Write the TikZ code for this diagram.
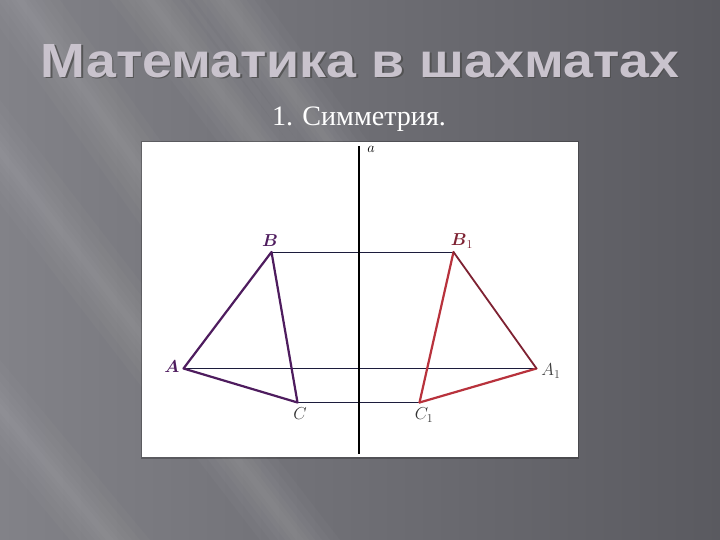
\documentclass[tikz,border=0pt]{standalone}
\usepackage{fontspec}
\setmainfont{Liberation Serif}
\newfontfamily\titlefont{Liberation Sans}
\usepackage{amsmath}
\definecolor{bgl}{HTML}{828288}
\definecolor{bgr}{HTML}{5A5A60}
\definecolor{titlec}{HTML}{C9C3CD}
\definecolor{purp}{HTML}{4E1C5E}
\definecolor{redc}{HTML}{B8323C}
\definecolor{redd}{HTML}{7E2232}
\definecolor{navy}{HTML}{1C1C3C}
\tikzset{
  purpline/.style={draw=purp, line width=2.2pt, line cap=round, line join=round},
  redline/.style={draw=redc, line width=2.2pt, line cap=round, line join=round},
  reddark/.style={draw=redd, line width=1.8pt, line cap=round},
  hline/.style={draw=navy, line width=0.9pt},
  ptlabel/.style={inner sep=0pt, font=\fontsize{17.28}{18}\selectfont},
  streak/.style={fill=white, opacity=0.025}
}
\newcommand{\mystreak}[4]{% centre line from (#1,#2) to (#3,#4), layered widths
  \foreach \w in {40,30,22,15,9,4} {
    \fill[streak] (#1-\w,#2) -- (#1+\w,#2) -- (#3+\w,#4) -- (#3-\w,#4) -- cycle;
  }
}
\begin{document}
\begin{tikzpicture}[x=1pt,y=-1pt]
\useasboundingbox (0,0) rectangle (720,540);
% background
\shade[left color=bgl, right color=bgr] (0,0) rectangle (720,540);
% diagonal streaks
\begin{scope}
\clip (0,0) rectangle (720,540);
\mystreak{-40}{100}{300}{540}
\mystreak{150}{0}{470}{420}
\mystreak{-90}{300}{110}{540}
\mystreak{20}{0}{220}{280}
\mystreak{210}{-20}{400}{240}
\end{scope}
% title
\node[inner sep=0pt, anchor=south, text=black!70, opacity=0.8] (titleshadow) at (361.5,79.5)
  {\resizebox{638pt}{33pt}{\titlefont\bfseries Математика в шахматах}};
\node[inner sep=0pt, anchor=south, text=titlec] (title) at (360,78)
  {\resizebox{638pt}{33pt}{\titlefont\bfseries Математика в шахматах}};
\node[inner sep=0pt, anchor=base, text=white] (subtitle) at (359,126)
  {\resizebox{174pt}{!}{\fontsize{27}{27}\selectfont 1. Симметрия.}};
% white panel
\fill[black, opacity=0.25] (141,141) rectangle (579,459);
\fill[white] (142,142) rectangle (578,457);
% points
\coordinate (B) at (271.5,252);
\coordinate (B1) at (453.5,252);
\coordinate (A) at (183.5,368.5);
\coordinate (A1) at (536.5,368.5);
\coordinate (C) at (297.5,402.5);
\coordinate (C1) at (419.5,402.5);
\coordinate (axtop) at (359,146);
\coordinate (axbot) at (359,454);
% horizontal lines
\draw[hline] (B) -- (B1);
\draw[hline] (A) -- (A1);
\draw[hline] (C) -- (C1);
% axis
\draw[black, line width=2.2pt] (axtop) -- (axbot);
\node[inner sep=0pt, font=\fontsize{14.4}{15}\selectfont] (alabel) at (371,149) {$a$};
% triangles
\draw[purpline] (A) -- (B) -- (C) -- cycle;
\draw[redline] (C1) -- (B1);
\draw[redline] (C1) -- (A1);
\draw[reddark] (B1) -- (A1);
% labels
\node[ptlabel, text=purp] (Bl) at (270,241) {$\boldsymbol{B}$};
\node[ptlabel, text=redd] (B1l) at (462,241) {$\boldsymbol{B}_1$};
\node[ptlabel, text=purp] (Al) at (172,367) {$\boldsymbol{A}$};
\node[ptlabel, text=black!75] (A1l) at (551,371) {$A_1$};
\node[ptlabel, text=black!80] (Cl) at (300,414) {$C$};
\node[ptlabel, text=black!80] (C1l) at (424,415) {$C_1$};
\end{tikzpicture}
\end{document}
